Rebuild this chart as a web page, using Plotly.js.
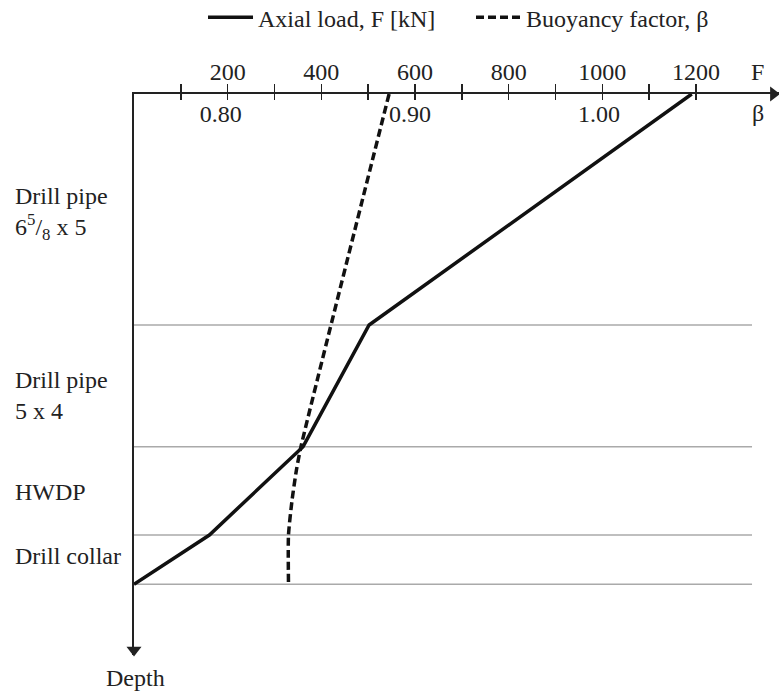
<!DOCTYPE html>
<html>
<head>
<meta charset="utf-8">
<script src="https://cdn.plot.ly/plotly-3.0.1.min.js"></script>
<style>html,body{margin:0;padding:0;background:#fff;}#chart{width:779px;height:693px;}</style>
</head>
<body>
<div id="chart"></div>
<script>
// ---- data ----
const loadDepth = [0, 231, 352.7, 441, 490.3];          // depth (schematic units)
const axialLoad = [1191, 502, 361, 161, 0];             // F [kN]
const betaDepth = [0, 352.7, 376, 406, 441, 490.3];
const buoyancy  = [0.889, 0.8424, 0.8400, 0.8377, 0.8358, 0.8358];
const sectionBounds = [231, 352.7, 441, 490.3];         // depth of section changes
const sectionNames = ["Drill pipe<br>6<sup>5</sup>/<sub>8</sub> x 5", "Drill pipe<br>5 x 4", "HWDP", "Drill collar"];
const sectionLabelDepth = [119, 301, 398, 462];
const fTickVals = [200, 400, 600, 800, 1000, 1200];
const fTickText = ["200", "400", "600", "800", "1000", "1200"];
const fMinorTickVals = [100, 300, 500, 700, 900, 1100];
const fAllTickVals = [100,200,300,400,500,600,700,800,900,1000,1100,1200];
const betaTickVals = [0.80, 0.90, 1.00];
const betaTickText = ["0.80", "0.90", "1.00"];

const FONT = "Liberation Serif, Times New Roman, serif";
const FS = 24;
const fRange = [0, 1377.3];
const betaRange = [0.7541, 1.0952];
const depthRange = [561, 0];

const traces = [
  {x: axialLoad, y: loadDepth, xaxis: 'x', yaxis: 'y', mode: 'lines',
   name: 'Axial load, F [kN]', line: {color: '#111', width: 3.5}, hoverinfo: 'skip'},
  {x: buoyancy, y: betaDepth, xaxis: 'x2', yaxis: 'y', mode: 'lines',
   name: 'Buoyancy factor, \u03b2', line: {color: '#111', width: 3.5, dash: '8px,4px', shape: 'spline', smoothing: 0.6}, hoverinfo: 'skip'},
  // axis arrowheads (at the ends of the F and depth axes)
  {x: [0], y: [depthRange[0] - 5], xaxis: 'x3', yaxis: 'y', mode: 'markers', cliponaxis: false,
   marker: {symbol: 'triangle-down', size: 13, color: '#222'}, showlegend: false, hoverinfo: 'skip'},
  {x: [fRange[1] - 12], y: [0], xaxis: 'x3', yaxis: 'y', mode: 'markers', cliponaxis: false,
   marker: {symbol: 'triangle-right', size: 13, color: '#222'}, showlegend: false, hoverinfo: 'skip'}
];

const shapes = sectionBounds.map(d => ({
  type: 'line', xref: 'x', yref: 'y', x0: 0, x1: 1319.7, y0: d, y1: d,
  line: {color: '#aaaaaa', width: 1.6}, layer: 'below'
}));

const annotations = sectionNames.map((t, i) => ({
  text: t, xref: 'paper', yref: 'y', x: -0.1876, y: sectionLabelDepth[i],
  xanchor: 'left', yanchor: 'middle', align: 'left', showarrow: false,
  font: {family: FONT, size: FS, color: '#222'}
}));
annotations.push(
  {text: 'F', xref: 'paper', yref: 'paper', x: 0.9674, y: 1.0392, xanchor: 'center', yanchor: 'middle',
   showarrow: false, font: {family: FONT, size: FS, color: '#222'}},
  {text: '\u03b2', xref: 'paper', yref: 'paper', x: 0.9674, y: 0.9661, xanchor: 'center', yanchor: 'middle',
   showarrow: false, font: {family: FONT, size: FS, color: '#222'}},
  {text: 'Depth', xref: 'paper', yref: 'paper', x: 0.003, y: -0.041, xanchor: 'center', yanchor: 'middle',
   showarrow: false, font: {family: FONT, size: FS, color: '#222'}}
);

const layout = {
  width: 779, height: 693,
  margin: {l: 134, r: 0, t: 94, b: 38, pad: 0, autoexpand: false},
  paper_bgcolor: '#fff', plot_bgcolor: '#fff',
  font: {family: FONT, size: FS, color: '#222'},
  showlegend: true,
  legend: {orientation: 'h', x: 0.107, y: 1.136, xanchor: 'left', yanchor: 'middle',
           font: {family: FONT, size: FS, color: '#222'}, itemwidth: 45,
           entrywidth: 208, entrywidthmode: 'pixels',
           bgcolor: 'rgba(0,0,0,0)', traceorder: 'normal'},
  xaxis: {side: 'top', range: fRange, tickmode: 'array', tickvals: fTickVals, ticktext: fTickText,
          ticks: 'outside', ticklen: 8, tickwidth: 1.5, tickcolor: '#222', ticklabelstandoff: -5,
          minor: {tickmode: 'array', tickvals: fMinorTickVals, ticks: 'outside', ticklen: 8,
                  tickwidth: 1.5, tickcolor: '#222', showgrid: false},
          showline: true, linecolor: '#222', linewidth: 1.6, showgrid: false, zeroline: false,
          tickfont: {family: FONT, size: FS, color: '#222'}, fixedrange: true},
  xaxis2: {side: 'top', overlaying: 'x', range: betaRange, tickmode: 'array',
           tickvals: betaTickVals, ticktext: betaTickText, ticks: '', ticklabelposition: 'inside',
           ticklabelstandoff: 8,
           showline: false, showgrid: false, zeroline: false,
           tickfont: {family: FONT, size: FS, color: '#222'}, fixedrange: true},
  xaxis3: {side: 'top', overlaying: 'x', matches: 'x', range: fRange, tickmode: 'array',
           tickvals: fAllTickVals, ticks: 'inside', ticklen: 6, tickwidth: 1.5, tickcolor: '#222',
           showticklabels: false, showline: false, showgrid: false, zeroline: false, fixedrange: true},
  yaxis: {range: depthRange, showline: true, linecolor: '#222', linewidth: 1.6,
          showticklabels: false, ticks: '', showgrid: false, zeroline: false, fixedrange: true},
  shapes: shapes,
  annotations: annotations
};

Plotly.newPlot('chart', traces, layout, {staticPlot: true});
</script>
</body>
</html>
